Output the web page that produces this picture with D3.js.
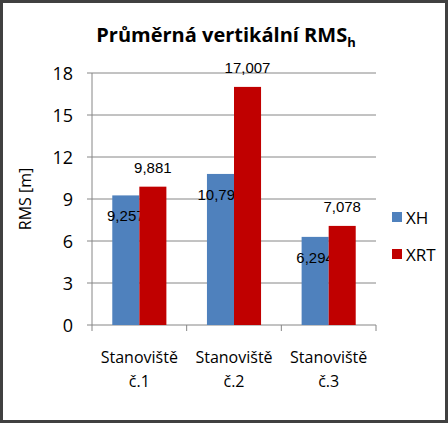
<!DOCTYPE html><html><head><meta charset="utf-8">
<script src="https://cdn.jsdelivr.net/npm/d3@7"></script>
<style>body{margin:0;background:#fff}</style></head><body>
<script>
const categories=[["Stanoviště","č.1"],["Stanoviště","č.2"],["Stanoviště","č.3"]];
const seriesNames=["XH","XRT"];
const xh=[9.257,10.790,6.294];
const xrt=[9.881,17.007,7.078];
const yTicks=[0,3,6,9,12,15,18];
const colors=["#4f81bd","#c00000"];
const W=448,H=423;
const svg=d3.select("body").append("svg").attr("width",W).attr("height",H);
svg.append("rect").attr("x",1.5).attr("y",1.5).attr("width",W-3).attr("height",H-3).attr("fill","#fff").attr("stroke","#404040").attr("stroke-width",3);
const L=92,R=376,T=73,B=325;
const y=d3.scaleLinear().domain([0,18]).range([B,T]);
const x0=d3.scaleBand().domain([0,1,2]).range([L,R]);
const x1=d3.scaleBand().domain([0,1]).range([0,x0.bandwidth()]).paddingInner(0).paddingOuter(0.75);
const font="Open Sans, Liberation Sans, sans-serif";
svg.append("g").selectAll("line").data(yTicks).join("line").attr("x1",L-5).attr("x2",R).attr("y1",d=>y(d)).attr("y2",d=>y(d)).attr("stroke","#868686");
svg.append("line").attr("x1",L).attr("x2",L).attr("y1",T).attr("y2",B).attr("stroke","#868686");
svg.append("g").selectAll("line").data([0,1,2,3]).join("line").attr("x1",d=>L+d*x0.step()).attr("x2",d=>L+d*x0.step()).attr("y1",B).attr("y2",B+6).attr("stroke","#868686");
svg.append("g").selectAll("text").data(yTicks).join("text").attr("x",L-19).attr("y",d=>y(d)+7).attr("text-anchor","end").attr("font-family",font).attr("font-size",18).text(d=>d);
const series=[xh,xrt];
series.forEach((s,si)=>{
  svg.append("g").selectAll("rect").data(s).join("rect")
    .attr("x",(d,i)=>x0(i)+x1(si)).attr("width",x1.bandwidth()).attr("y",d=>y(d)).attr("height",d=>B-y(d)).attr("fill",colors[si]);
  svg.append("g").selectAll("text").data(s).join("text")
    .attr("x",(d,i)=>x0(i)+x1(si)+x1.bandwidth()/2).attr("y",d=>si==0?y(d)+26:y(d)-14)
    .attr("text-anchor","middle").attr("font-family","Liberation Sans, Arial, sans-serif").attr("font-size",15).text(d=>d3.format(".3f")(d).replace(".",","));
});
svg.append("g").selectAll("text").data(categories).join("text")
  .attr("x",(d,i)=>x0(i)+x0.bandwidth()/2).attr("y",363).attr("text-anchor","middle").attr("font-family",font).attr("font-size",16)
  .each(function(d){d3.select(this).selectAll("tspan").data(d).join("tspan").attr("x",d3.select(this).attr("x")).attr("dy",(t,j)=>j?24:0).text(t=>t);});
svg.append("text").attr("transform","translate(31,199) rotate(-90)").attr("text-anchor","middle").attr("font-family",font).attr("font-size",16).text("RMS [m]");
const t=svg.append("text").attr("x",226).attr("y",42).attr("text-anchor","middle").attr("font-family",font).attr("font-size",20).attr("font-weight","bold").text("Průměrná vertikální RMS");
t.append("tspan").attr("font-size",13).attr("dy",5).text("h");
seriesNames.forEach((n,i)=>{
  svg.append("rect").attr("x",392).attr("y",212+i*37).attr("width",10).attr("height",10).attr("fill",colors[i]);
  svg.append("text").attr("x",406).attr("y",224+i*37).attr("font-family",font).attr("font-size",17).text(n);
});
</script></body></html>
